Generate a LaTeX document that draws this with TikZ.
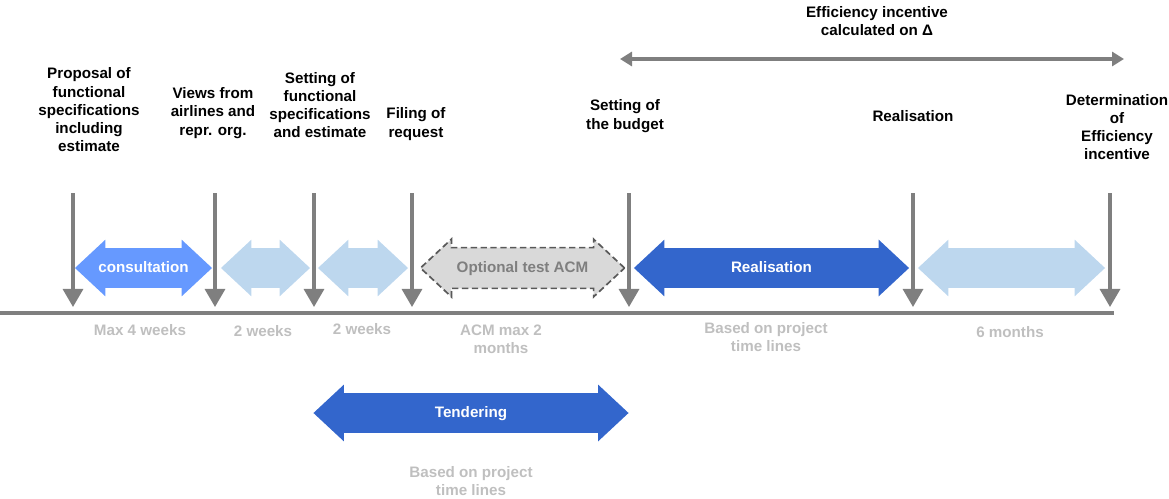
\documentclass[tikz,border=0pt]{standalone}
\usepackage{fontspec}
\setmainfont{Liberation Sans}
\usetikzlibrary{shapes.arrows, arrows.meta}
\definecolor{darkblue}{RGB}{51,102,204}
\definecolor{midblue}{RGB}{102,153,255}
\definecolor{paleblue}{RGB}{189,215,238}
\definecolor{markgray}{RGB}{127,127,127}
\definecolor{dashfill}{RGB}{217,217,217}
\definecolor{dashline}{RGB}{89,89,89}
\definecolor{notegray}{RGB}{191,191,191}
\newcommand{\lblfont}{\fontsize{10.8}{13}\selectfont\bfseries}
\tikzstyle{phase} = [double arrow, draw=none, double arrow tip angle=86, double arrow head extend=0.2125cm, inner xsep=0pt, inner ysep=0.2875cm, text height=0.3cm, text depth=0.1cm, font=\lblfont, text=white]
\tikzstyle{milestone} = [align=center, font=\lblfont, text=black]
\tikzstyle{note} = [align=center, font=\lblfont, text=notegray]
\tikzstyle{marker} = [line width=2.2pt, color=markgray, -{Triangle[width=0.5cm, length=0.45cm]}]
\tikzstyle{timeline} = [line width=2.2pt, color=markgray]
\tikzstyle{span} = [line width=2.2pt, color=markgray, {Triangle[width=0.35cm, length=0.3cm]}-{Triangle[width=0.35cm, length=0.3cm]}]

\begin{document}
\begin{tikzpicture}[x=0.025cm, y=-0.025cm]
\useasboundingbox (0,0) rectangle (1169,499);

% Milestone labels
\node (propose) [milestone] at (89,110) {Proposal of\\functional\\specifications\\including\\estimate};
\node (views) [milestone] at (213,113) {Views from\\airlines and\\repr. org.};
\node (setspec) [milestone] at (320,105) {Setting of\\functional\\specifications\\and estimate};
\node (filing) [milestone] at (416,124) {Filing of\\request};
\node (budget) [milestone] at (625,116) {Setting of\\the budget};
\node (real) [milestone] at (913,116) {Realisation};
\node (determ) [milestone] at (1117,127) {Determination\\of\\Efficiency\\incentive};
\node (effic) [milestone] at (877,21) {Efficiency incentive\\calculated on Δ};

% Phases
\node (consult) [phase, fill=midblue, minimum height=3.425cm] at (143.5,268) {consultation};
\node (gap1) [phase, fill=paleblue, minimum height=2.225cm] at (265.5,268) {};
\node (gap2) [phase, fill=paleblue, minimum height=2.25cm] at (363,268) {};
\node (acm) [phase, fill=dashfill, draw=dashline, line width=1.2pt, dash pattern=on 4.5pt off 2.5pt, text=markgray, minimum height=5.1cm] at (522.5,268) {Optional test ACM};
\node (realise) [phase, fill=darkblue, minimum height=6.875cm] at (771.5,268) {Realisation};
\node (gap3) [phase, fill=paleblue, minimum height=4.675cm] at (1011.5,268) {};
\node (tender) [phase, fill=darkblue, minimum height=7.875cm] at (471,413) {Tendering};

% Durations
\node (d1) [note] at (140,330) {Max 4 weeks};
\node (d2) [note] at (263,331) {2 weeks};
\node (d3) [note] at (362,329) {2 weeks};
\node (d4) [note] at (501,339) {ACM max 2\\months};
\node (d5) [note] at (766,337) {Based on project\\time lines};
\node (d6) [note] at (1010,332) {6 months};
\node (d7) [note] at (471,481) {Based on project\\time lines};

% Arrows
\coordinate (lineL) at (0,313);
\coordinate (lineR) at (1114,313);
\draw [timeline] (lineL) -- (lineR);
\foreach \x [count=\i] in {73,215,314,412,629,913,1110} {
  \coordinate (top\i) at (\x,193);
  \coordinate (tip\i) at (\x,307);
  \draw [marker] (top\i) -- (tip\i);
}
\coordinate (effL) at (620,59);
\coordinate (effR) at (1124,59);
\draw [span] (effL) -- (effR);

\end{tikzpicture}
\end{document}
